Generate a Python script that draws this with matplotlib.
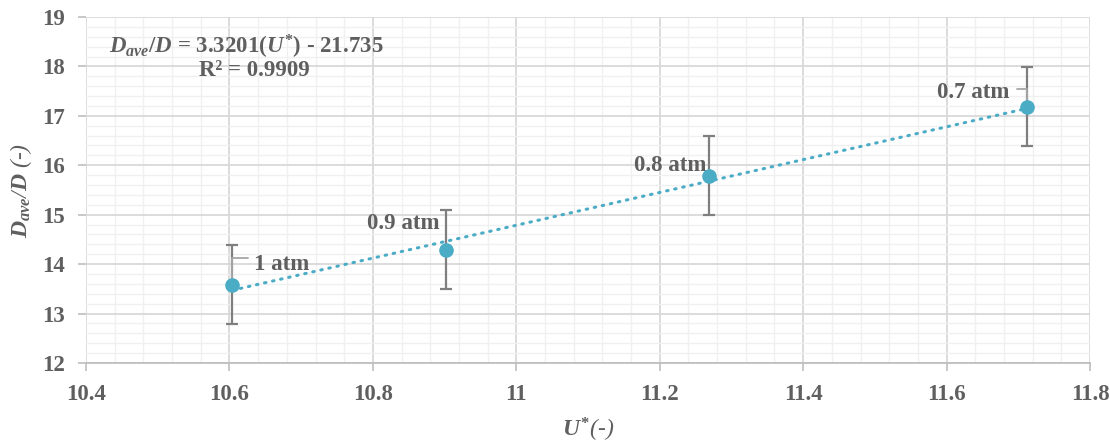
import matplotlib
matplotlib.use("Agg")
import matplotlib.pyplot as plt
from matplotlib.ticker import MultipleLocator
import numpy as np

# Data
u_star = [10.604, 10.902, 11.268, 11.712]
d_ratio = [13.58, 14.29, 15.79, 17.18]
err = [0.8, 0.8, 0.8, 0.8]
labels = ["1 atm", "0.9 atm", "0.8 atm", "0.7 atm"]
slope, intercept = 3.3201, -21.735

plt.rcParams['font.family'] = ['Liberation Serif', 'DejaVu Serif']
plt.rcParams['font.weight'] = 'bold'
plt.rcParams['mathtext.fontset'] = 'custom'
plt.rcParams['mathtext.rm'] = 'Liberation Serif:bold'
plt.rcParams['mathtext.it'] = 'Liberation Serif:bold:italic'
plt.rcParams['mathtext.bf'] = 'Liberation Serif:bold'

TXT = '#5F5F5F'
TEAL = '#4BACC6'
GRAY = '#7F7F7F'
FS = 16.5

fig = plt.figure(figsize=(11.1, 4.47), dpi=100)
ax = fig.add_axes([0.0775, 0.188, 0.9045, 0.774])

ax.set_xlim(10.4, 11.8)
ax.set_ylim(12, 19)
ax.xaxis.set_major_locator(MultipleLocator(0.2))
ax.xaxis.set_minor_locator(MultipleLocator(0.04))
ax.yaxis.set_major_locator(MultipleLocator(1))
ax.yaxis.set_minor_locator(MultipleLocator(0.2))
ax.grid(which='minor', color='#F0F0F0', lw=1.0)
ax.grid(which='major', color='#D9D9D9', lw=1.3)
ax.set_axisbelow(True)
for s in ['top', 'right', 'left']:
    ax.spines[s].set_visible(False)
ax.spines['bottom'].set_color('#BFBFBF')
ax.spines['bottom'].set_linewidth(1.3)
ax.tick_params(which='minor', length=0)
ax.tick_params(which='major', length=6, color='#BFBFBF', width=1.2,
               labelsize=FS, labelcolor=TXT)
ax.tick_params(axis='x', pad=9)
ax.tick_params(axis='y', pad=9)

def fmt(v):
    s = f"{v:.1f}"
    return s[:-2] if s.endswith('.0') else s
xt_vals = np.arange(10.4, 11.81, 0.2)
ax.set_xticks(xt_vals)
ax.set_xticklabels([fmt(v) for v in xt_vals])
ax.set_yticks(range(12, 20))
ax.set_yticklabels([str(v) for v in range(12, 20)])

# trendline
xt = np.array([u_star[0], u_star[-1]])
ax.plot(xt, slope * xt + intercept, color=TEAL, lw=2.2,
        linestyle=(0, (0.5, 2.2)), dash_capstyle='round', zorder=2)

# error bars and points
ax.errorbar(u_star, d_ratio, yerr=err, fmt='none', ecolor=GRAY,
            elinewidth=1.6, capsize=4, capthick=1.6, zorder=3)
ax.plot(u_star, d_ratio, 'o', color=TEAL, ms=9.5, zorder=4)

# labels
offsets = [(22, 20, 'left'), (-7, 26, 'right'), (-2, 10, 'right'), (-18, 14, 'right')]
for x, y, lab, (dx, dy, ha) in zip(u_star, d_ratio, labels, offsets):
    ax.annotate(lab, (x, y), xytext=(dx, dy), textcoords='offset pixels',
                ha=ha, va='center', fontsize=FS, color=TXT, fontweight='bold')

# leader lines
leaders = [(0, (16, 27)), (3, (-10, 18))]
for i, off in leaders:
    ax.annotate("", (u_star[i], d_ratio[i]), xytext=off, textcoords='offset pixels',
                arrowprops=dict(arrowstyle='-', color='#A6A6A6', lw=1.3,
                                connectionstyle='angle,angleA=0,angleB=90',
                                shrinkA=0, shrinkB=4))

# equation
ax.text(0.023, 0.913, r"$D_{ave}$/$D$ = 3.3201($U^{*}$) - 21.735",
        transform=ax.transAxes, fontsize=FS, color=TXT, ha='left', va='center')
ax.text(0.168, 0.845, "R² = 0.9909", transform=ax.transAxes, fontsize=FS,
        color=TXT, ha='center', va='center')

ax.set_ylabel(r"$D_{ave}$/$D$ (-)", fontsize=17, color=TXT, style='italic', labelpad=6)
ax.set_xlabel(r"$U^{*}$(-)", fontsize=17, color=TXT, style='italic', labelpad=8)

fig.savefig("out.png", dpi=100)
